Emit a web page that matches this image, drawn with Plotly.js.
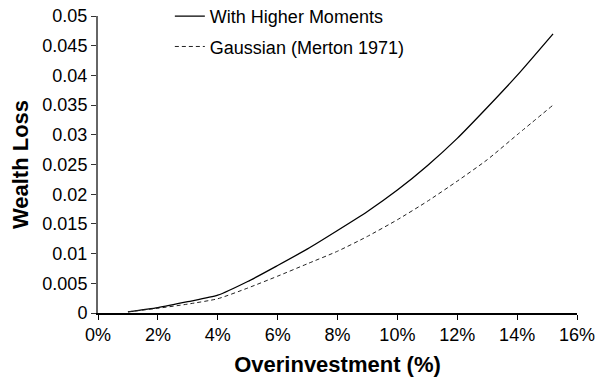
<!DOCTYPE html>
<html>
<head>
<meta charset="utf-8">
<script src="https://cdn.plot.ly/plotly-3.0.1.min.js"></script>
<style>html,body{margin:0;padding:0;background:#fff;}#chart{width:611px;height:380px;}</style>
</head>
<body>
<div id="chart"></div>
<script>
const overinvestment = [1, 2, 3, 4, 5, 6, 7, 8, 9, 10, 11, 12, 13, 14, 15.2];
const higherMoments = [0.0002, 0.0009, 0.0019, 0.0030, 0.0053, 0.0080, 0.0108, 0.0139, 0.0171, 0.0207, 0.0248, 0.0294, 0.0346, 0.0400, 0.0470];
const gaussian = [0.0002, 0.0008, 0.0015, 0.0024, 0.0042, 0.0062, 0.0083, 0.0104, 0.0129, 0.0157, 0.0188, 0.0222, 0.0258, 0.0300, 0.0350];
const seriesNames = ["With Higher Moments", "Gaussian (Merton 1971)"];

const font = "Liberation Sans, Arial, Helvetica, sans-serif";

const traces = [
  {x: overinvestment, y: higherMoments, name: seriesNames[0], mode: "lines", legendgroup: "a",
   line: {color: "#000", width: 1.3, shape: "spline", smoothing: 0.6}},
  {x: overinvestment, y: gaussian, name: seriesNames[1], mode: "lines", legendgroup: "b",
   line: {color: "#222", width: 1, dash: "4px,3px", shape: "spline", smoothing: 0.6}}
];

const layout = {
  width: 611, height: 380,
  margin: {l: 98, r: 34, t: 16, b: 67, autoexpand: false},
  paper_bgcolor: "#fff", plot_bgcolor: "#fff",
  font: {family: font, color: "#000", size: 18},
  showlegend: true,
  legend: {x: 0.15, xanchor: "left", y: 1.061, yanchor: "top", bgcolor: "rgba(0,0,0,0)",
           font: {size: 18, family: font}, tracegroupgap: 4, traceorder: "grouped", itemwidth: 30},
  xaxis: {
    range: [0, 16], dtick: 2, tick0: 0, ticksuffix: "%",
    showgrid: false, zeroline: false, showline: true, linecolor: "#000", linewidth: 1.5,
    ticks: "outside", ticklen: 5, tickcolor: "#000", tickwidth: 1,
    tickfont: {size: 18, family: font},
    title: {text: "<b>Overinvestment (%)</b>", font: {size: 22, family: font}, standoff: 12}
  },
  yaxis: {
    range: [0, 0.05], dtick: 0.005, tick0: 0,
    showgrid: false, zeroline: false, showline: true, linecolor: "#666", linewidth: 2,
    ticks: "outside", ticklen: 5, tickcolor: "#333", tickwidth: 1,
    tickfont: {size: 18, family: font},
    title: {text: "<b>Wealth Loss</b>", font: {size: 22, family: font}, standoff: 8}
  }
};

Plotly.newPlot("chart", traces, layout, {staticPlot: true, displayModeBar: false});
</script>
</body>
</html>
